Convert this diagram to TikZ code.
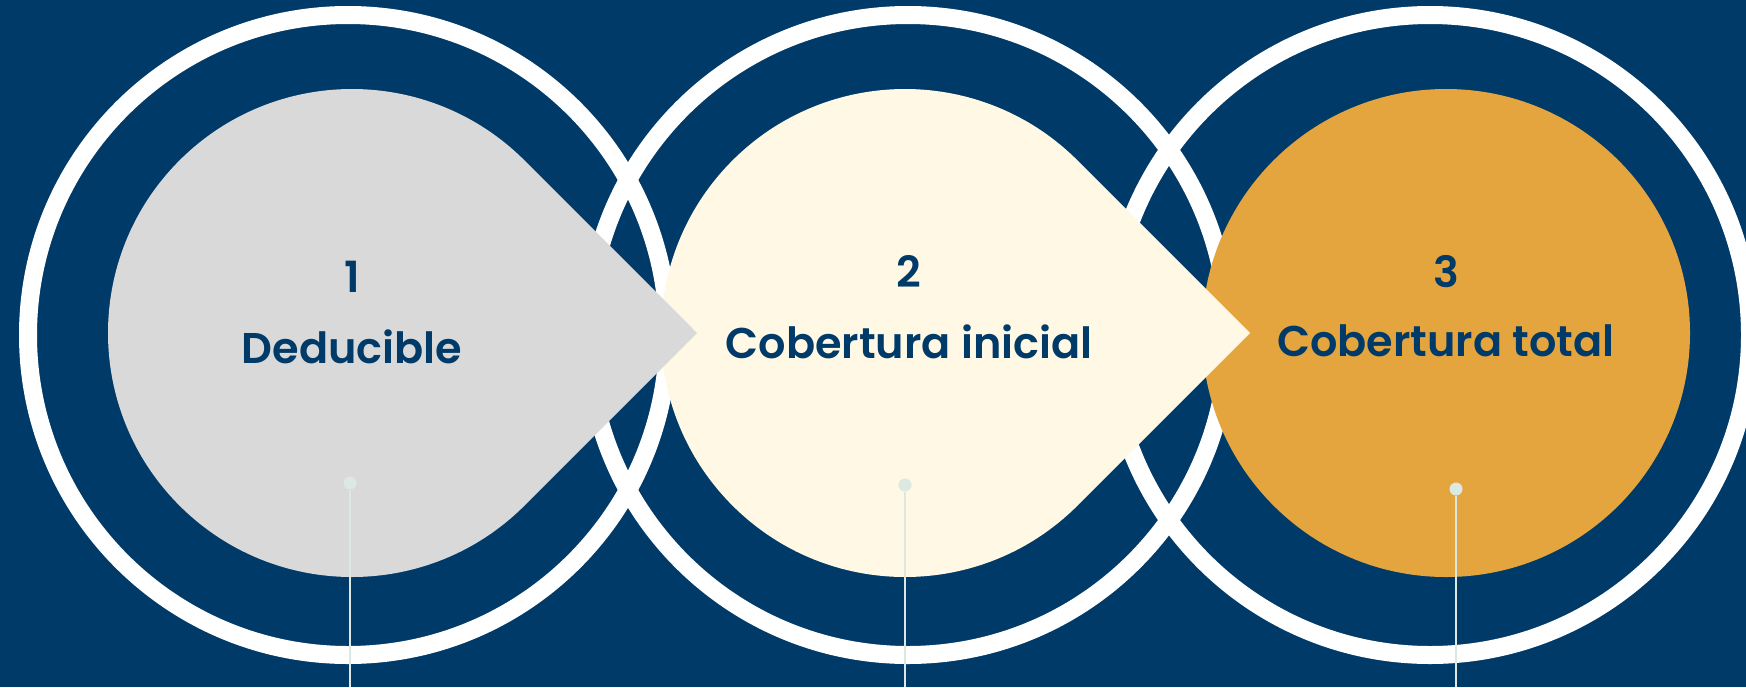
\documentclass[tikz,border=0pt]{standalone}
\usepackage{fontspec}
\newfontfamily\labelfont{Poppins SemiBold}
\definecolor{navy}{RGB}{0,58,104}
\definecolor{softgray}{RGB}{217,217,217}
\definecolor{cream}{RGB}{254,248,228}
\definecolor{amber}{RGB}{228,165,62}
\definecolor{mist}{RGB}{220,232,226}

\begin{document}
\begin{tikzpicture}[x=0.5pt,y=-0.5pt,
    ring/.style={draw=white,line width=9pt},
    steptext/.style={anchor=base,text=navy,inner sep=0pt,font=\labelfont\fontsize{21.5}{26}\selectfont},
    dotnode/.style={circle,fill=mist,inner sep=0pt,minimum size=6.5pt},
    stem/.style={draw=mist,line width=0.75pt}]

    % Canvas
    \useasboundingbox (0,0) rectangle (1746,687);
    \fill[navy] (0,0) rectangle (1746,687);
    \clip (0,0) rectangle (1746,687);

    % Outer rings
    \draw[ring] (348,335) circle[radius=320];
    \draw[ring] (908,335) circle[radius=320];
    \draw[ring] (1430,335) circle[radius=320];

    % Drops (right to left, so each tip lies on the next one)
    \fill[amber] (1446,333) circle[radius=244];
    \fill[cream] (905,333) ++(45:244) arc[start angle=45,end angle=315,radius=244] -- (1250,333) -- cycle;
    \fill[softgray] (352,333) ++(45:244) arc[start angle=45,end angle=315,radius=244] -- (697,333) -- cycle;

    % Texts
    \node[steptext] (num1) at (352,292) {1};
    \node[steptext] (lbl1) at (352,363) {Deducible};
    \node[steptext] (num2) at (909,287) {2};
    \node[steptext] (lbl2) at (909,358) {Cobertura inicial};
    \node[steptext] (num3) at (1446,287) {3};
    \node[steptext] (lbl3) at (1446,356) {Cobertura total};

    % Pins
    \node[dotnode] (dot1) at (350,483) {};
    \node[dotnode] (dot2) at (905,485) {};
    \node[dotnode] (dot3) at (1456,489) {};
    \coordinate (end1) at (350,687);
    \coordinate (end2) at (905,687);
    \coordinate (end3) at (1456,687);
    \draw[stem] (dot1) -- (end1);
    \draw[stem] (dot2) -- (end2);
    \draw[stem] (dot3) -- (end3);
\end{tikzpicture}
\end{document}
